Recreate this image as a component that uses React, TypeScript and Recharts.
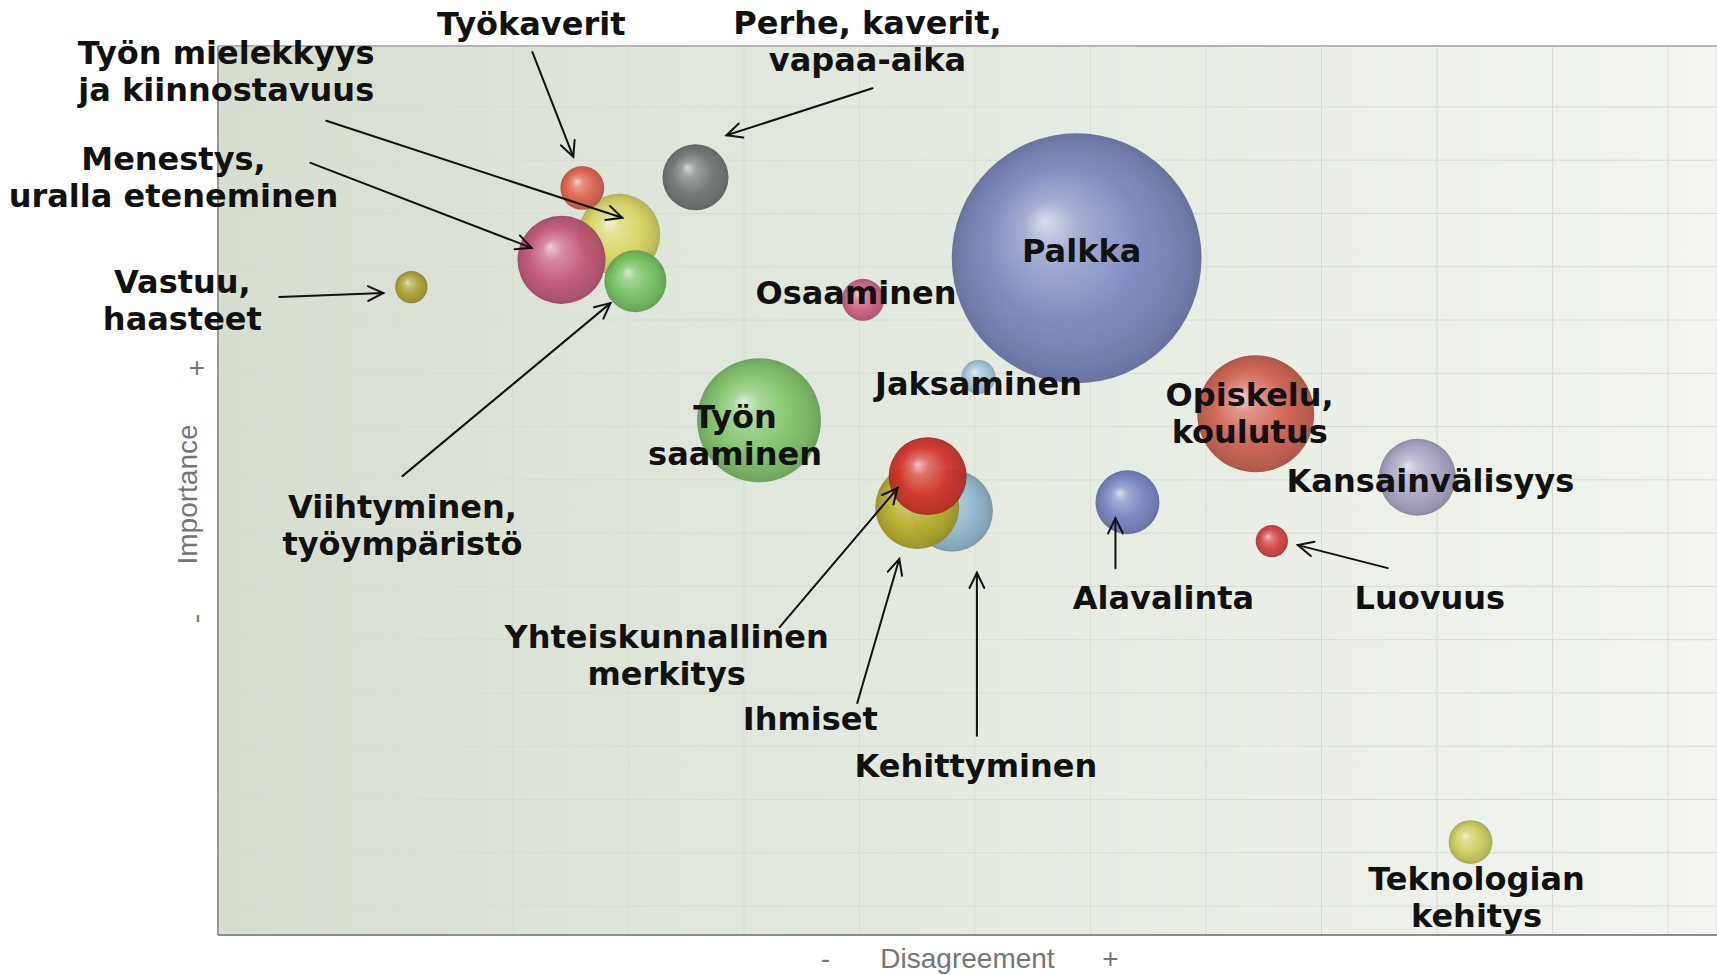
import React from 'react';
import { ScatterChart, Scatter, XAxis, YAxis, ZAxis, CartesianGrid, ReferenceLine } from 'recharts';

// ---- data ----
const labelLines: string[][] = [
  ['Palkka'],
  ['Jaksaminen'],
  ['Työn mielekkyys', 'ja kiinnostavuus'],
  ['Työkaverit'],
  ['Menestys,', 'uralla eteneminen'],
  ['Viihtyminen,', 'työympäristö'],
  ['Perhe, kaverit,', 'vapaa-aika'],
  ['Vastuu,', 'haasteet'],
  ['Osaaminen'],
  ['Työn', 'saaminen'],
  ['Opiskelu,', 'koulutus'],
  ['Kansainvälisyys'],
  ['Kehittyminen'],
  ['Ihmiset'],
  ['Yhteiskunnallinen', 'merkitys'],
  ['Alavalinta'],
  ['Luovuus'],
  ['Teknologian', 'kehitys'],
];
const categories = labelLines.map((l) => l.join(' '));
const disagreement = [6.88, 6.03, 2.92, 2.6, 2.42, 3.06, 3.58, 1.12, 5.03, 4.13, 8.43, 9.83, 5.8, 5.5, 5.59, 7.32, 8.57, 10.29];
const importance = [12.16, 9.93, 12.6, 13.48, 12.13, 11.73, 13.68, 11.62, 11.38, 9.12, 9.24, 8.05, 7.42, 7.49, 8.07, 7.58, 6.85, 1.2];
const weight = [156, 2.9, 16.8, 4.8, 19.4, 9.6, 10.9, 2.6, 4.4, 38.4, 34.2, 14.8, 16.8, 17.6, 15.2, 10.2, 2.6, 4.8];

const xTicks = [0, 1, 2, 3, 4, 5, 6, 7, 8, 9, 10, 11, 12];
const yTicks = [0, 1, 2, 3, 4, 5, 6, 7, 8, 9, 10, 11, 12, 13, 14, 15];

// ---- styles ----
const bubbleColors = ['#7b86bf', '#a3c4d9', '#d9d562', '#de5f4d', '#c4557a', '#73c062', '#6f7473', '#aaa033', '#cc5f82', '#7fc46a', '#d0604f', '#a9a4c4', '#93b8cf', '#b8ad2a', '#d2322c', '#7683c0', '#d0403f', '#cbcd5c'];

// annotation layout: label anchor and optional arrow, as pixel offsets from the bubble centre
type Lay = { label: [number, number]; arrow?: [[number, number], [number, number]] };
const annotationLayout: Lay[] = [
  { label: [5, 4] },
  { label: [0, 18] },
  { label: [-393, -171], arrow: [[-293, -114], [3, -17]] },
  { label: [-51, -153], arrow: [[-50, -136], [-9, -31]] },
  { label: [-388, -90], arrow: [[-251, -97], [-30, -12]] },
  { label: [-233, 237], arrow: [[-233, 195], [-25, 22]] },
  { label: [172, -143], arrow: [[177, -89], [31, -42]] },
  { label: [-229, 6], arrow: [[-132, 10], [-28, 6]] },
  { label: [-7, 4] },
  { label: [-24, 8] },
  { label: [-6, -8] },
  { label: [13, 15] },
  { label: [24, 266], arrow: [[25, 225], [25, 62]] },
  { label: [-107, 223], arrow: [[-60, 196], [-18, 52]] },
  { label: [-261, 172], arrow: [[-148, 151], [-30, 12]] },
  { label: [36, 107], arrow: [[-12, 66], [-12, 16]] },
  { label: [158, 68], arrow: [[116, 27], [26, 4]] },
  { label: [6, 48] },
];

const rows = categories.map((name, idx) => ({
  idx,
  name,
  x: disagreement[idx],
  y: importance[idx],
  z: weight[idx],
}));

function shade(hex: string, amt: number): string {
  const n = parseInt(hex.slice(1), 16);
  let r = (n >> 16) & 255, g = (n >> 8) & 255, b = n & 255;
  if (amt >= 0) {
    r = r + (255 - r) * amt; g = g + (255 - g) * amt; b = b + (255 - b) * amt;
  } else {
    r = r * (1 + amt); g = g * (1 + amt); b = b * (1 + amt);
  }
  const h = (v: number) => Math.round(v).toString(16).padStart(2, '0');
  return `#${h(r)}${h(g)}${h(b)}`;
}

const LABEL_FONT = '"DejaVu Sans", Verdana, sans-serif';
const AXIS_FONT = '"Liberation Sans", Arial, sans-serif';

function EmptyTick() {
  return <g />;
}

function Bubble(props: any) {
  const { cx, cy, payload, size, width } = props;
  const r = size != null ? Math.sqrt(Math.max(size, 0) / Math.PI) : (width || 0) / 2;
  return <circle cx={cx} cy={cy} r={r} fill={`url(#bub-${payload.idx})`} fillOpacity={0.94} />;
}

function Annotation(props: any) {
  const { cx, cy, payload } = props;
  const lay = annotationLayout[payload.idx];
  const lines = labelLines[payload.idx];
  const lx = cx + lay.label[0];
  const ly = cy + lay.label[1];
  let arrow = null;
  if (lay.arrow) {
    const [[a1, b1], [a2, b2]] = lay.arrow;
    const x1 = cx + a1, y1 = cy + b1, x2 = cx + a2, y2 = cy + b2;
    const ang = Math.atan2(y2 - y1, x2 - x1);
    const L = 17, spread = 0.45;
    const h1x = x2 - L * Math.cos(ang - spread), h1y = y2 - L * Math.sin(ang - spread);
    const h2x = x2 - L * Math.cos(ang + spread), h2y = y2 - L * Math.sin(ang + spread);
    arrow = (
      <g stroke="#111" strokeWidth={2} fill="none" strokeLinecap="round">
        <line x1={x1} y1={y1} x2={x2} y2={y2} />
        <polyline points={`${h1x},${h1y} ${x2},${y2} ${h2x},${h2y}`} />
      </g>
    );
  }
  return (
    <g>
      {arrow}
      {lines.map((t, i) => (
        <text key={i} x={lx} y={ly + i * 37} textAnchor="middle" fontFamily={LABEL_FONT} fontWeight="bold" fontSize={32} fill="#111">
          {t}
        </text>
      ))}
    </g>
  );
}

function XLabel(props: any) {
  const vb = props.viewBox || { x: 218, y: 935, width: 1499, height: 40 };
  const c = vb.x + vb.width / 2;
  const base = vb.y + 33;
  return (
    <g fontFamily={AXIS_FONT} fontSize={28} fill="#767676">
      <text x={c - 142} y={base} textAnchor="middle">-</text>
      <text x={c} y={base} textAnchor="middle">Disagreement</text>
      <text x={c + 143} y={base} textAnchor="middle">+</text>
    </g>
  );
}

function YLabel(props: any) {
  const vb = props.viewBox || { x: 0, y: 46, width: 218, height: 889 };
  const c = vb.y + vb.height / 2;
  const bx = vb.x + vb.width - 21;
  return (
    <g fontFamily={AXIS_FONT} fontSize={28} fill="#767676">
      <text x={bx} y={c + 4} textAnchor="middle" transform={`rotate(-90, ${bx}, ${c + 4})`}>Importance</text>
      <text x={bx} y={c - 123} textAnchor="middle" dominantBaseline="central">+</text>
      <text x={bx - 2} y={c + 128} textAnchor="middle" dominantBaseline="central" transform={`rotate(-90, ${bx - 2}, ${c + 128})`}>-</text>
    </g>
  );
}

export default function App() {
  return (
    <div style={{ position: 'absolute', left: 0, top: 0, width: 1717, height: 975, background: '#ffffff' }}>
      <svg width={0} height={0} style={{ position: 'absolute' }}>
        <defs>
          <linearGradient id="plotBg" x1="0" y1="0" x2="1" y2="0">
            <stop offset="0%" stopColor="#d6ded0" />
            <stop offset="50%" stopColor="#e4eae0" />
            <stop offset="100%" stopColor="#f2f5f0" />
          </linearGradient>
          {bubbleColors.map((c, i) => (
            <radialGradient key={i} id={`bub-${i}`} cx="50%" cy="50%" r="50%" fx="37%" fy="35%">
              <stop offset="0%" stopColor={shade(c, 0.72)} />
              <stop offset="22%" stopColor={shade(c, 0.3)} />
              <stop offset="62%" stopColor={c} />
              <stop offset="90%" stopColor={shade(c, -0.12)} />
              <stop offset="100%" stopColor={shade(c, -0.2)} />
            </radialGradient>
          ))}
        </defs>
      </svg>
      <ScatterChart width={1717} height={975} margin={{ top: 46, right: 0, bottom: 0, left: 0 }}>
        <CartesianGrid stroke="#d5dcd2" strokeOpacity={1} fill="url(#plotBg)" fillOpacity={1} />
        <XAxis
          type="number"
          dataKey="x"
          domain={[-0.554, 12.424]}
          ticks={xTicks}
          tick={<EmptyTick />}
          tickLine={false}
          axisLine={{ stroke: '#8c8c8c', strokeWidth: 2 }}
          height={40}
          label={{ content: (p: any) => <XLabel {...p} /> }}
        />
        <YAxis
          type="number"
          dataKey="y"
          domain={[-0.544, 16.144]}
          ticks={yTicks}
          tick={<EmptyTick />}
          tickLine={false}
          axisLine={{ stroke: '#9a9a9a', strokeWidth: 2 }}
          width={218}
          label={{ content: (p: any) => <YLabel {...p} /> }}
        />
        <ZAxis type="number" dataKey="z" domain={[0, 160]} range={[0, 50265]} />
        <ReferenceLine y={16.144} stroke="#b4b4b4" strokeWidth={2} ifOverflow="visible" />
        <Scatter data={rows} shape={<Bubble />} isAnimationActive={false} />
        <Scatter data={rows} shape={<Annotation />} isAnimationActive={false} />
      </ScatterChart>
    </div>
  );
}
